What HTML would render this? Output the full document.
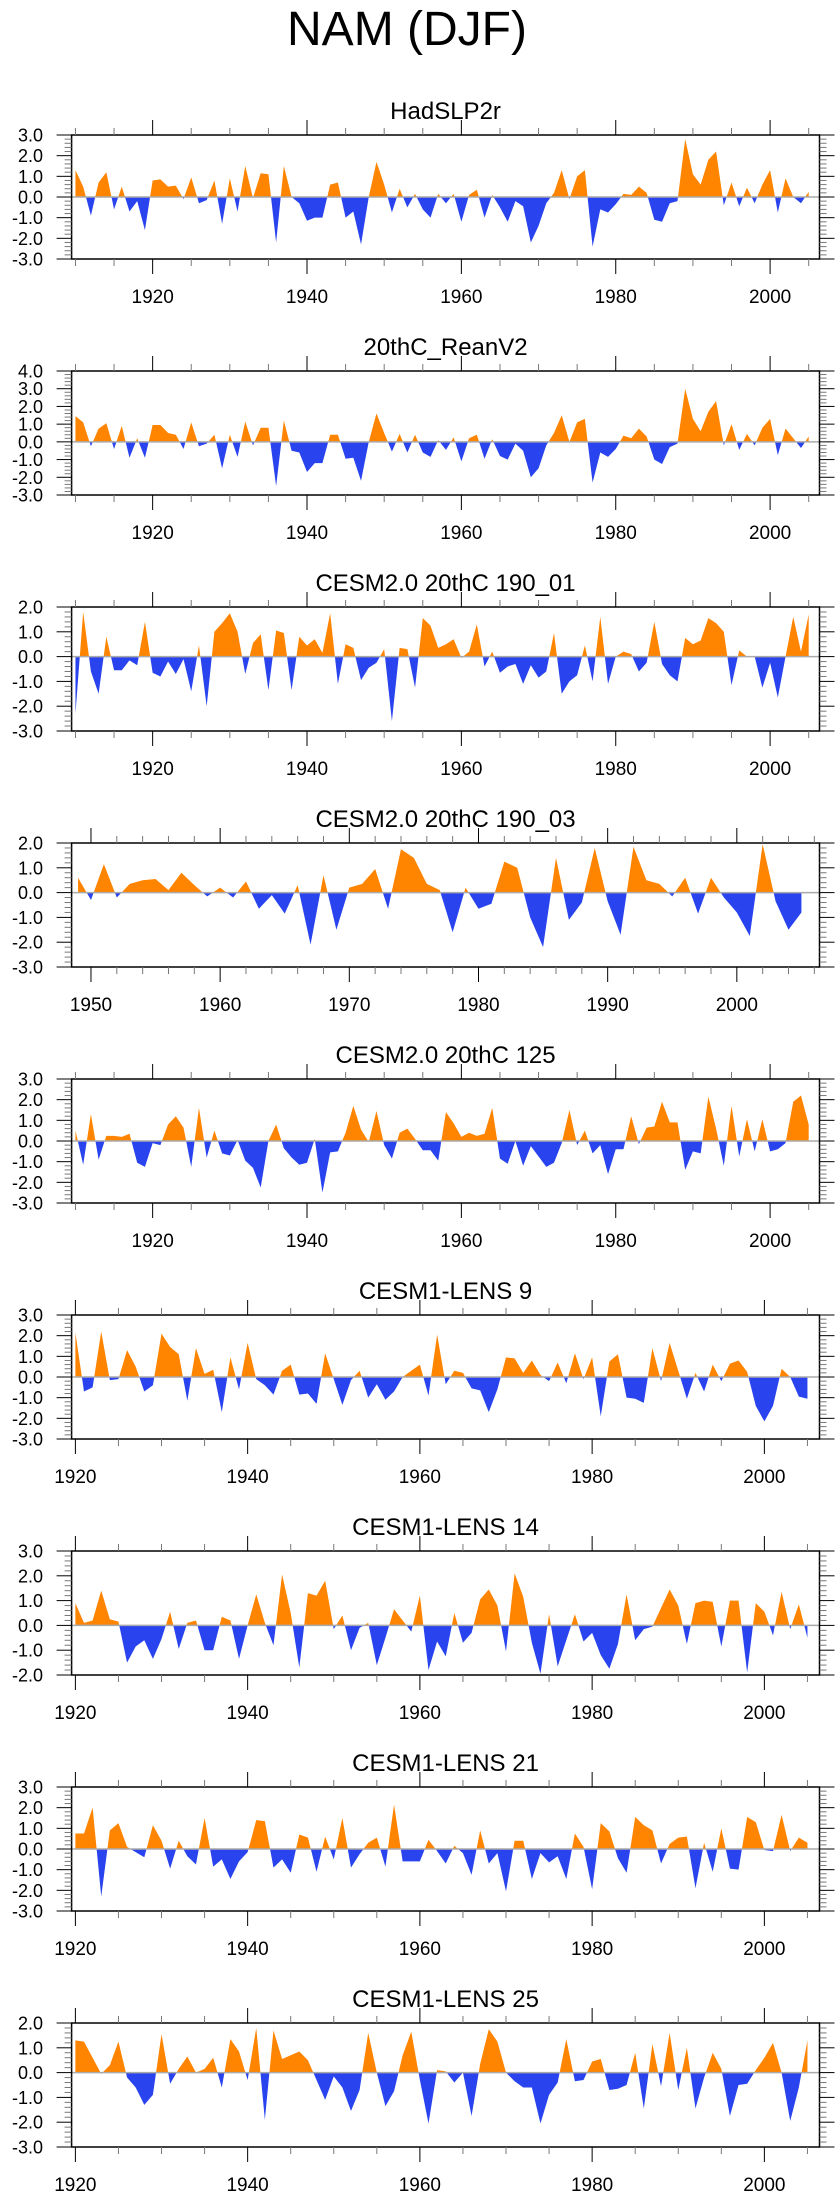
<!DOCTYPE html>
<html><head><meta charset="utf-8"><title>NAM (DJF)</title>
<style>
html,body{margin:0;padding:0;background:#fff;}
svg{display:block;}
text{font-family:"Liberation Sans",Arial,sans-serif;fill:#000;}
</style></head>
<body>
<svg id="chart" width="840" height="2200" viewBox="0 0 840 2200" xmlns="http://www.w3.org/2000/svg">
<text x="407" y="45" font-size="48" text-anchor="middle">NAM (DJF)</text>
</svg>
<script>
const panelTitles = ["HadSLP2r","20thC_ReanV2","CESM2.0 20thC 190_01","CESM2.0 20thC 190_03","CESM2.0 20thC 125","CESM1-LENS 9","CESM1-LENS 14","CESM1-LENS 21","CESM1-LENS 25"];
const panelStartYears = [1910,1910,1910,1949,1910,1920,1920,1920,1920];
const panelYMin = [-3,-3,-3,-3,-3,-3,-2,-3,-3];
const panelYMax = [3,4,2,2,3,3,3,3,2];
const panelXMin = [1909.5,1909.5,1909.5,1948.5,1909.5,1919.56,1919.56,1919.56,1919.56];
const panelXMax = [2006.4,2006.4,2006.4,2006.4,2006.4,2006.4,2006.4,2006.4,2006.4];
const panelMajorStep = [20,20,20,10,20,20,20,20,20];
const panelMinorStep = [5,5,5,2,5,5,5,5,5];

const hadslpValues = [1.3,0.5,-0.9,0.7,1.2,-0.6,0.5,-0.7,-0.2,-1.6,
0.8,0.85,0.5,0.55,-0.1,0.95,-0.3,-0.15,0.8,-1.3,
0.9,-0.7,1.5,-0.05,1.15,1.1,-2.2,1.5,0.0,-0.3,
-1.15,-1.0,-1.0,0.6,0.7,-1.0,-0.7,-2.3,0.0,1.7,
0.6,-0.75,0.4,-0.5,0.15,-0.6,-1.0,0.15,-0.3,0.15,
-1.2,0.1,0.35,-1.0,0.1,-0.5,-1.2,-0.2,-0.45,-2.2,
-1.4,-0.3,0.2,1.3,-0.1,1.0,1.3,-2.4,-0.6,-0.75,
-0.35,0.15,0.1,0.5,0.2,-1.1,-1.2,-0.3,-0.2,2.8,
1.1,0.6,1.8,2.2,-0.4,0.7,-0.45,0.45,-0.3,0.6,
1.3,-0.75,0.9,0.0,-0.3,0.25];
const reanV2Values = [1.45,1.1,-0.25,0.75,1.05,-0.4,0.9,-0.9,0.2,-0.9,
0.95,0.95,0.5,0.4,-0.4,1.1,-0.25,-0.1,0.4,-1.5,
0.4,-0.85,1.15,-0.2,0.8,0.8,-2.5,1.2,-0.5,-0.6,
-1.7,-1.2,-1.2,0.4,0.4,-0.95,-0.9,-2.2,0.0,1.6,
0.5,-0.55,0.45,-0.6,0.4,-0.6,-0.85,0.1,-0.45,0.25,
-1.1,0.2,0.4,-0.95,0.15,-0.8,-1.0,-0.1,-0.5,-2.0,
-1.5,-0.2,0.5,1.5,0.0,1.1,1.3,-2.3,-0.6,-0.85,
-0.4,0.35,0.2,0.75,0.3,-1.0,-1.25,-0.3,-0.1,3.0,
1.3,0.6,1.7,2.3,-0.2,1.0,-0.45,0.45,-0.2,0.8,
1.3,-0.75,0.75,0.2,-0.35,0.3];
const cesm2_190_01Values = [-2.3,1.8,-0.6,-1.5,0.8,-0.55,-0.55,-0.15,-0.35,1.4,
-0.65,-0.8,-0.2,-0.7,-0.1,-1.4,0.45,-2.0,1.0,1.35,
1.75,1.0,-0.7,0.55,0.9,-1.35,1.05,0.95,-1.35,0.8,
0.45,0.7,0.15,1.75,-1.1,0.5,0.35,-0.95,-0.45,-0.25,
0.3,-2.6,0.35,0.3,-1.25,1.55,1.25,0.35,0.5,0.7,
-0.05,0.2,1.3,-0.4,0.2,-0.65,-0.4,-0.3,-1.1,-0.35,
-0.85,-0.6,0.95,-1.5,-1.0,-0.75,0.45,-1.0,1.6,-1.1,
0.0,0.2,0.1,-0.6,-0.25,1.4,-0.3,-0.75,-1.0,0.75,
0.5,0.65,1.55,1.35,1.0,-1.15,0.25,0.0,0.0,-1.25,
-0.25,-1.65,0.0,1.6,0.2,1.7];
const cesm2_190_03Values = [0.6,-0.3,1.15,-0.2,0.35,0.5,0.55,0.1,0.8,0.3,
-0.15,0.2,-0.2,0.45,-0.65,-0.1,-0.85,0.3,-2.1,0.7,
-1.5,0.2,0.35,0.95,-0.65,1.75,1.4,0.35,0.1,-1.6,
0.2,-0.65,-0.45,1.25,1.0,-1.0,-2.2,1.4,-1.1,-0.4,
1.8,-0.35,-1.7,1.85,0.5,0.35,-0.15,0.6,-0.85,0.6,
-0.2,-0.8,-1.75,1.95,-0.35,-1.5,-0.8];
const cesm2_125Values = [0.5,-1.15,1.3,-0.9,0.25,0.25,0.2,0.35,-1.05,-1.25,
-0.1,-0.2,0.8,1.2,0.65,-1.25,1.6,-0.8,0.5,-0.6,
-0.7,0.05,-0.95,-1.3,-2.25,0.0,0.8,-0.35,-0.8,-1.15,
-1.05,0.1,-2.5,-0.55,-0.5,0.4,1.7,0.55,-0.05,1.45,
-0.2,-0.85,0.4,0.6,0.1,-0.45,-0.45,-0.95,1.4,0.85,
0.2,0.4,0.25,0.35,1.6,-0.85,-1.1,0.0,-1.2,-0.25,
-0.75,-1.25,-1.05,-0.1,1.5,-0.2,0.5,-0.6,-0.2,-1.6,
-0.4,-0.4,1.2,-0.15,0.65,0.7,1.9,0.9,0.9,-1.4,
-0.5,-0.6,2.15,0.6,-1.2,1.7,-0.75,1.05,-0.5,1.05,
-0.5,-0.4,-0.1,1.9,2.2,0.8];
const lens9Values = [2.15,-0.7,-0.5,2.2,-0.15,-0.1,1.3,0.5,-0.7,-0.4,
2.1,1.45,1.1,-1.15,1.4,0.15,0.35,-1.7,0.95,-0.6,
1.65,-0.1,-0.4,-0.85,0.3,0.6,-0.85,-0.8,-1.3,1.15,
-0.1,-1.35,-0.15,0.3,-1.0,-0.35,-1.1,-0.7,0.0,0.3,
0.6,-0.9,2.05,-0.35,0.3,0.2,-0.55,-0.65,-1.7,-0.6,
0.95,0.9,0.2,0.8,0.1,-0.2,0.7,-0.3,1.15,-0.1,
0.95,-1.9,0.75,1.1,-1.0,-1.05,-1.25,1.4,-0.2,1.65,
0.3,-1.05,0.2,-0.7,0.6,-0.2,0.65,0.8,0.25,-1.4,
-2.15,-1.4,0.4,0.0,-0.95,-1.05];
const lens14Values = [0.9,0.1,0.2,1.4,0.25,0.15,-1.5,-0.85,-0.6,-1.35,
-0.55,0.55,-0.95,0.1,0.2,-1.0,-1.0,0.35,0.2,-1.35,
0.0,1.25,0.1,-0.8,2.05,0.5,-1.7,1.3,1.2,1.8,
-0.15,0.4,-1.0,-0.1,0.1,-1.6,-0.5,0.65,0.2,-0.25,
1.2,-1.8,-0.65,-1.25,0.5,-0.7,-0.3,1.05,1.45,0.8,
-1.05,2.1,1.15,-0.7,-1.95,0.45,-1.65,-0.6,0.45,-0.65,
-0.3,-1.2,-1.75,-0.75,1.25,-0.6,-0.15,-0.05,0.7,1.45,
0.8,-0.75,0.9,1.0,0.95,-0.85,1.0,1.0,-1.9,0.9,
0.55,-0.4,1.35,-0.15,0.85,-0.5];
const lens21Values = [0.75,0.75,2.0,-2.3,0.9,1.25,0.1,-0.15,-0.4,1.15,
0.4,-0.95,0.4,-0.35,-0.75,1.5,-0.85,-0.5,-1.45,-0.6,
-0.15,1.4,1.35,-0.9,-0.5,-1.15,0.7,0.55,-1.1,0.6,
-0.5,1.5,-0.9,-0.25,0.3,0.55,-0.85,2.15,-0.6,-0.6,
-0.6,0.45,-0.1,-0.7,0.15,-0.2,-1.25,0.9,-0.7,-0.2,
-2.05,0.4,0.4,-1.45,-0.2,-0.65,-0.35,-1.45,0.75,0.1,
-1.95,1.25,0.85,-0.45,-1.15,1.55,1.15,0.9,-0.7,0.25,
0.55,0.6,-1.9,0.3,-1.1,1.0,-0.95,-1.0,1.55,1.3,
-0.05,-0.1,1.65,-0.1,0.55,0.3];
const lens25Values = [1.3,1.25,0.6,-0.05,0.3,1.25,-0.2,-0.6,-1.3,-0.9,
1.55,-0.45,0.15,0.65,0.0,0.15,0.6,-0.6,1.35,0.85,
-0.3,1.8,-1.9,1.7,0.55,0.7,0.85,0.5,-0.3,-1.1,
-0.15,-0.6,-1.55,-0.7,1.6,0.0,-1.35,-0.75,0.7,1.65,
-0.3,-2.05,0.1,0.05,-0.4,0.0,-1.75,0.35,1.75,1.25,
0.0,-0.35,-0.6,-0.6,-2.05,-0.9,-0.4,1.35,-0.35,-0.3,
0.45,0.55,-0.7,-0.65,-0.5,0.8,-1.45,1.15,-0.55,1.6,
-0.7,1.0,-1.45,-0.2,0.8,0.15,-1.75,-0.5,-0.45,0.1,
0.6,1.2,0.0,-1.95,-0.6,1.3];
const panelSeries = [hadslpValues,reanV2Values,cesm2_190_01Values,cesm2_190_03Values,cesm2_125Values,lens9Values,lens14Values,lens21Values,lens25Values];

const NS = "http://www.w3.org/2000/svg";
const svg = document.getElementById("chart");
const BOX_L = 71.6, BOX_R = 819.5, BOX_H = 124, FIRST_TOP = 135, PERIOD = 236;
const POS = "#FF8400", NEG = "#2944EE";

function mk(tag, attrs, parent) {
  const e = document.createElementNS(NS, tag);
  for (const k in attrs) e.setAttribute(k, attrs[k]);
  (parent || svg).appendChild(e);
  return e;
}

function drawPanel(i) {
  const top = FIRST_TOP + i * PERIOD, bot = top + BOX_H;
  const xmin = panelXMin[i], xmax = panelXMax[i], ymin = panelYMin[i], ymax = panelYMax[i];
  const xs = v => BOX_L + (v - xmin) / (xmax - xmin) * (BOX_R - BOX_L);
  const ys = v => bot - (v - ymin) / (ymax - ymin) * BOX_H;
  const g = mk("g", {});
  
  

  const t = mk("text", {x: (BOX_L + BOX_R) / 2, y: top - 16, "font-size": 24, "text-anchor": "middle"}, g);
  t.textContent = panelTitles[i];
  
  

  // points with zero crossings
  const vals = panelSeries[i], y0 = panelStartYears[i];
  const pts = [];
  for (let k = 0; k < vals.length; k++) {
    const x = y0 + k, v = vals[k];
    if (k > 0) {
      const pv = vals[k - 1];
      if ((pv > 0 && v < 0) || (pv < 0 && v > 0)) {
        pts.push([x - 1 + pv / (pv - v), 0]);
      }
    }
    pts.push([x, v]);
  }
  const first = pts[0][0], last = pts[pts.length - 1][0];
  function poly(fn) {
    let d = "M" + xs(first).toFixed(2) + "," + ys(0).toFixed(2);
    for (const p of pts) d += "L" + xs(p[0]).toFixed(2) + "," + ys(fn(p[1])).toFixed(2);
    d += "L" + xs(last).toFixed(2) + "," + ys(0).toFixed(2) + "Z";
    return d;
  }
  const pa = mk("path", {d: poly(v => Math.max(v, 0)), fill: POS}, g);
  
  
  const na = mk("path", {d: poly(v => Math.min(v, 0)), fill: NEG}, g);
  
  

  const zl = mk("line", {x1: BOX_L, x2: BOX_R, y1: ys(0), y2: ys(0), stroke: "#aaa", "stroke-width": 1.5}, g);
  
  

  const box = mk("rect", {x: BOX_L, y: top, width: BOX_R - BOX_L, height: BOX_H, fill: "none", stroke: "#000", "stroke-width": 1.5}, g);
  
  

  // y ticks
  for (let v = ymin; v <= ymax + 1e-6; v += 0.2) {
    const r = Math.round(v * 10) / 10;
    const major = Math.abs(r - Math.round(r)) < 1e-6;
    const len = major ? 15 : 7, yy = ys(r);
    mk("line", {x1: BOX_L - len, x2: BOX_L, y1: yy, y2: yy, stroke: major ? "#000" : "#777", "stroke-width": 1}, g);
    mk("line", {x1: BOX_R, x2: BOX_R + len, y1: yy, y2: yy, stroke: major ? "#000" : "#777", "stroke-width": 1}, g);
    if (major) {
      const lab = mk("text", {x: 43, y: yy + 6.5, "font-size": 18, "text-anchor": "end"}, g);
      lab.textContent = r.toFixed(1);
      
      
    }
  }
  // x ticks
  const ms = panelMinorStep[i], Ms = panelMajorStep[i];
  for (let yr = Math.ceil(xmin / ms) * ms; yr <= xmax; yr += ms) {
    const major = yr % Ms === 0;
    const len = major ? 15 : 7, xx = xs(yr);
    mk("line", {x1: xx, x2: xx, y1: top - len, y2: top, stroke: major ? "#000" : "#777", "stroke-width": 1}, g);
    mk("line", {x1: xx, x2: xx, y1: bot, y2: bot + len, stroke: major ? "#000" : "#777", "stroke-width": 1}, g);
    if (major) {
      const lab = mk("text", {x: xx, y: bot + 44, "font-size": 19, "text-anchor": "middle"}, g);
      lab.textContent = String(yr);
      
      
    }
  }
}
for (let i = 0; i < panelTitles.length; i++) drawPanel(i);
</script>
</body></html>
